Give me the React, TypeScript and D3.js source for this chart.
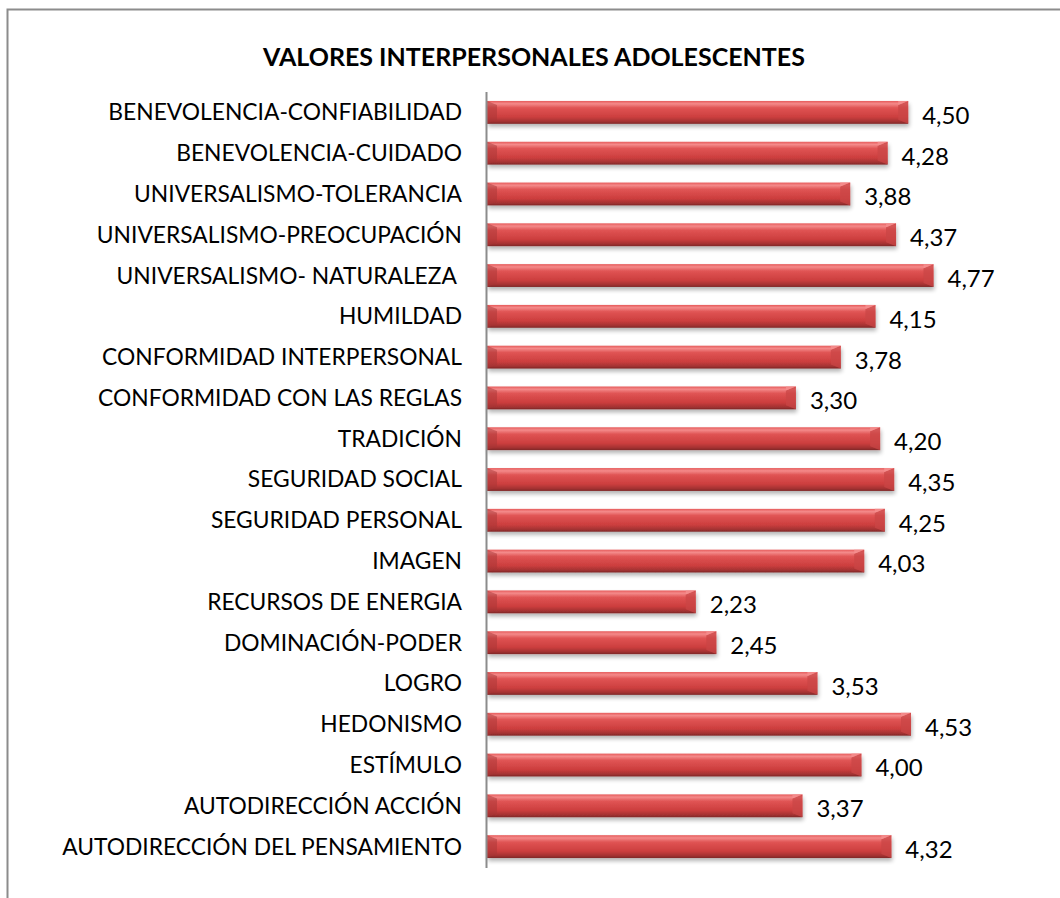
import React from 'react'
import * as d3 from 'd3'

const categories = [
  'BENEVOLENCIA-CONFIABILIDAD',
  'BENEVOLENCIA-CUIDADO',
  'UNIVERSALISMO-TOLERANCIA',
  'UNIVERSALISMO-PREOCUPACIÓN',
  'UNIVERSALISMO- NATURALEZA ',
  'HUMILDAD',
  'CONFORMIDAD INTERPERSONAL',
  'CONFORMIDAD CON LAS REGLAS',
  'TRADICIÓN',
  'SEGURIDAD SOCIAL',
  'SEGURIDAD PERSONAL',
  'IMAGEN',
  'RECURSOS DE ENERGIA',
  'DOMINACIÓN-PODER',
  'LOGRO',
  'HEDONISMO',
  'ESTÍMULO',
  'AUTODIRECCIÓN ACCIÓN',
  'AUTODIRECCIÓN DEL PENSAMIENTO',
]

const values = [4.5, 4.28, 3.88, 4.37, 4.77, 4.15, 3.78, 3.3, 4.2, 4.35, 4.25, 4.03, 2.23, 2.45, 3.53, 4.53, 4.0, 3.37, 4.32]

const title = 'VALORES INTERPERSONALES ADOLESCENTES'

export default function App() {
  const width = 1060
  const height = 898
  const left = 487
  const font = 'Lato, "Open Sans", sans-serif'

  const x = d3.scaleLinear().domain([0, 5]).range([left, left + 468])
  const y = d3.scaleBand<string>().domain(categories).range([92, 867]).paddingInner(0.44).paddingOuter(0.22)
  const fmt = (v: number) => d3.format('.2f')(v).replace('.', ',')
  const bh = y.bandwidth()

  return <div style={{position: 'absolute', left: 0, top: 0}}>
    <svg width={width} height={height} style={{display: 'block'}}>
      <defs>
        <linearGradient id="barGrad" x1="0" y1="0" x2="0" y2="1">
          <stop offset="0" stopColor="#e65a5a" />
          <stop offset="0.12" stopColor="#f48a8a" />
          <stop offset="0.3" stopColor="#e05454" />
          <stop offset="0.7" stopColor="#cc3e3e" />
          <stop offset="0.9" stopColor="#a33232" />
          <stop offset="1" stopColor="#7e2727" />
        </linearGradient>
        <filter id="shadow" x="-5%" y="-30%" width="110%" height="180%">
          <feGaussianBlur in="SourceAlpha" stdDeviation="2" />
          <feOffset dx="1" dy="3" result="b" />
          <feComponentTransfer><feFuncA type="linear" slope="0.3" /></feComponentTransfer>
          <feMerge><feMergeNode /><feMergeNode in="SourceGraphic" /></feMerge>
        </filter>
      </defs>
      <rect x={0} y={0} width={width} height={height} fill="#fff" />
      <path d={`M7.5,${height}V9.5H${width}`} fill="none" stroke="#8c8c8c" strokeWidth={2} />
      <text x={534} y={66} textAnchor="middle" fontFamily={font} fontWeight="bold" fontSize={25} fill="#000">{title}</text>
      {categories.map((c, i) => {
        const y0 = y(c)!
        const x1 = x(values[i])
        const bev = 10
        return <g key={c}>
          <g filter="url(#shadow)">
            <rect x={left} y={y0} width={x1 - left} height={bh} fill="url(#barGrad)" />
          </g>
          <polygon points={`${x1 - bev},${y0 + 4} ${x1},${y0} ${x1},${y0 + bh} ${x1 - bev},${y0 + bh - 4}`} fill="#c94545" opacity={0.75} />
          <polygon points={`${x1 - bev},${y0 + 4} ${x1},${y0} ${x1 - bev},${y0} `} fill="#f59090" opacity={0.8} />
          <polygon points={`${left + bev},${y0 + 4} ${left},${y0} ${left},${y0 + bh} ${left + bev},${y0 + bh - 4}`} fill="#a83636" opacity={0.5} />
          <text x={462} y={y0 + bh / 2} dy="0.35em" textAnchor="end" fontFamily={font} fontSize={22.8} fill="#000" style={{whiteSpace: 'pre'}}>{c}</text>
          <text x={x1 + 14} y={y0 + bh / 2 + 3} dy="0.35em" fontFamily={font} fontSize={24} fill="#000">{fmt(values[i])}</text>
        </g>
      })}
      <line x1={left - 0.5} x2={left - 0.5} y1={92} y2={868} stroke="#8c8c8c" strokeWidth={2} />
    </svg>
  </div>
}
